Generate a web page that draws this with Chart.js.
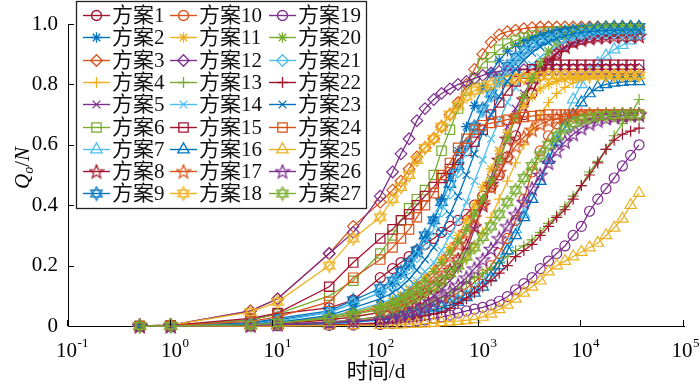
<!DOCTYPE html>
<html>
<head>
<meta charset="utf-8">
<script src="https://cdn.jsdelivr.net/npm/chart.js@4.4.1/dist/chart.umd.min.js"></script>
<style>
  html, body { margin: 0; padding: 0; background: #fff; }
  canvas { display: block; }
</style>
</head>
<body>
<canvas id="qChart" width="700" height="388"></canvas>
<script>
// time steps (days), shared by every scheme
const days = [0.5, 1, 6, 11, 35, 60, 110, 145, 175, 210, 250, 300, 365, 435, 525, 630, 760, 910, 1095, 1320,
  1585, 1905, 2290, 2755, 3310, 3980, 4785, 5755, 6920, 8320, 10000, 12020, 14455, 17380, 20895, 25120, 30200, 36500];

// Qo/N, one list per scheme
const q1 = [0,0.002,0.02,0.04,0.06,0.086,0.16,0.19,0.21,0.23,0.25,0.27,0.29,0.31,0.33,0.35,0.37,0.40,0.43,0.46,0.50,0.56,0.63,0.70,0.77,0.83,0.87,0.90,0.925,0.94,0.95,0.957,0.962,0.965,0.967,0.968,0.969,0.97];
const q2 = [0,0.001,0.01,0.02,0.045,0.075,0.11,0.14,0.17,0.20,0.24,0.29,0.35,0.42,0.50,0.58,0.66,0.73,0.79,0.84,0.88,0.91,0.93,0.945,0.955,0.963,0.97,0.975,0.978,0.98,0.982,0.984,0.985,0.986,0.987,0.988,0.988,0.988];
const q3 = [0,0.003,0.05,0.09,0.24,0.33,0.41,0.45,0.48,0.52,0.56,0.59,0.62,0.66,0.70,0.74,0.80,0.85,0.90,0.94,0.965,0.975,0.98,0.985,0.988,0.99,0.99,0.99,0.99,0.99,0.99,0.99,0.99,0.99,0.99,0.99,0.99,0.99];
const q4 = [0,0,0.003,0.007,0.02,0.03,0.045,0.055,0.065,0.075,0.09,0.105,0.12,0.14,0.165,0.19,0.22,0.26,0.31,0.36,0.42,0.48,0.54,0.60,0.65,0.70,0.74,0.77,0.79,0.805,0.815,0.82,0.824,0.827,0.829,0.83,0.83,0.83];
const q5 = [0,0,0.002,0.005,0.013,0.02,0.03,0.037,0.045,0.055,0.067,0.08,0.10,0.12,0.15,0.19,0.25,0.32,0.40,0.49,0.58,0.66,0.72,0.77,0.815,0.85,0.88,0.905,0.92,0.935,0.945,0.952,0.958,0.962,0.965,0.967,0.969,0.97];
const q6 = [0,0.002,0.02,0.04,0.10,0.15,0.24,0.30,0.35,0.39,0.42,0.45,0.50,0.58,0.65,0.72,0.78,0.82,0.87,0.89,0.915,0.935,0.945,0.955,0.962,0.968,0.972,0.975,0.977,0.978,0.98,0.98,0.98,0.98,0.98,0.98,0.98,0.98];
const q7 = [0,0,0.001,0.003,0.008,0.012,0.02,0.025,0.03,0.035,0.042,0.05,0.058,0.067,0.078,0.09,0.105,0.125,0.15,0.18,0.22,0.27,0.32,0.37,0.42,0.48,0.55,0.62,0.69,0.75,0.80,0.84,0.87,0.895,0.915,0.93,0.945,0.96];
const q8 = [0,0,0.003,0.008,0.02,0.03,0.045,0.055,0.065,0.078,0.092,0.11,0.13,0.155,0.185,0.22,0.27,0.33,0.40,0.47,0.55,0.62,0.69,0.75,0.80,0.845,0.88,0.905,0.925,0.94,0.948,0.953,0.956,0.958,0.959,0.96,0.96,0.96];
const q9 = [0,0.001,0.01,0.025,0.05,0.085,0.125,0.15,0.18,0.21,0.25,0.30,0.35,0.41,0.47,0.53,0.60,0.66,0.72,0.77,0.82,0.86,0.89,0.915,0.935,0.95,0.96,0.968,0.974,0.978,0.981,0.984,0.986,0.988,0.989,0.99,0.99,0.99];
const q10 = [0,0,0.001,0.003,0.01,0.015,0.025,0.03,0.035,0.042,0.05,0.06,0.07,0.08,0.095,0.11,0.125,0.145,0.17,0.20,0.24,0.29,0.35,0.42,0.51,0.58,0.63,0.67,0.685,0.692,0.696,0.698,0.70,0.70,0.70,0.70,0.70,0.70];
const q11 = [0,0,0.004,0.01,0.03,0.05,0.07,0.085,0.10,0.12,0.14,0.165,0.19,0.225,0.26,0.30,0.35,0.40,0.46,0.52,0.58,0.64,0.69,0.73,0.76,0.785,0.80,0.81,0.818,0.823,0.826,0.828,0.83,0.83,0.83,0.83,0.83,0.83];
const q12 = [0,0.003,0.05,0.09,0.24,0.31,0.43,0.51,0.57,0.62,0.68,0.72,0.75,0.77,0.785,0.80,0.81,0.82,0.83,0.838,0.843,0.846,0.848,0.849,0.85,0.85,0.85,0.85,0.85,0.85,0.85,0.85,0.85,0.85,0.85,0.85,0.85,0.85];
const q13 = [0,0,0.002,0.004,0.012,0.02,0.03,0.038,0.045,0.052,0.06,0.07,0.082,0.095,0.11,0.125,0.145,0.16,0.175,0.19,0.21,0.23,0.25,0.265,0.285,0.31,0.34,0.365,0.395,0.43,0.465,0.51,0.545,0.585,0.63,0.67,0.70,0.75];
const q14 = [0,0,0.004,0.01,0.03,0.05,0.075,0.09,0.105,0.125,0.15,0.18,0.21,0.25,0.30,0.35,0.41,0.48,0.55,0.62,0.68,0.74,0.79,0.83,0.865,0.89,0.91,0.928,0.942,0.953,0.961,0.967,0.971,0.974,0.976,0.978,0.979,0.98];
const q15 = [0,0.002,0.025,0.043,0.13,0.21,0.29,0.32,0.35,0.37,0.40,0.43,0.46,0.49,0.52,0.55,0.58,0.61,0.65,0.70,0.74,0.78,0.81,0.835,0.85,0.86,0.865,0.865,0.865,0.865,0.865,0.865,0.865,0.865,0.865,0.865,0.865,0.865];
const q16 = [0,0,0.001,0.003,0.008,0.012,0.02,0.024,0.028,0.033,0.038,0.045,0.052,0.06,0.07,0.08,0.095,0.11,0.13,0.16,0.20,0.25,0.30,0.36,0.42,0.48,0.55,0.61,0.66,0.70,0.74,0.77,0.79,0.80,0.805,0.808,0.81,0.81];
const q17 = [0,0,0.004,0.01,0.025,0.04,0.06,0.07,0.085,0.10,0.12,0.14,0.165,0.195,0.23,0.27,0.31,0.36,0.41,0.46,0.51,0.555,0.595,0.625,0.65,0.668,0.68,0.688,0.693,0.696,0.698,0.70,0.70,0.70,0.70,0.70,0.70,0.70];
const q18 = [0,0.003,0.046,0.08,0.20,0.29,0.36,0.42,0.46,0.50,0.55,0.59,0.62,0.66,0.70,0.73,0.76,0.78,0.79,0.80,0.81,0.815,0.82,0.822,0.825,0.827,0.83,0.83,0.83,0.83,0.83,0.83,0.83,0.83,0.83,0.83,0.83,0.83];
const q19 = [0,0,0,0.001,0.002,0.003,0.005,0.008,0.011,0.014,0.017,0.02,0.025,0.03,0.036,0.043,0.05,0.056,0.062,0.07,0.082,0.097,0.12,0.14,0.16,0.19,0.215,0.24,0.265,0.30,0.33,0.38,0.42,0.455,0.49,0.53,0.565,0.60];
const q20 = [0,0,0.005,0.012,0.03,0.045,0.065,0.08,0.095,0.11,0.13,0.15,0.18,0.21,0.245,0.28,0.32,0.37,0.42,0.48,0.55,0.62,0.69,0.76,0.82,0.87,0.91,0.94,0.96,0.972,0.98,0.985,0.988,0.99,0.99,0.99,0.99,0.99];
const q21 = [0,0,0.006,0.015,0.045,0.075,0.11,0.135,0.16,0.19,0.23,0.27,0.32,0.38,0.44,0.51,0.58,0.65,0.71,0.76,0.81,0.85,0.88,0.905,0.925,0.94,0.95,0.957,0.962,0.965,0.967,0.968,0.969,0.97,0.97,0.97,0.97,0.97];
const q22 = [0,0,0,0.001,0.003,0.006,0.01,0.014,0.018,0.023,0.028,0.034,0.04,0.045,0.058,0.075,0.09,0.11,0.13,0.15,0.175,0.20,0.23,0.25,0.27,0.30,0.33,0.36,0.385,0.42,0.465,0.50,0.54,0.585,0.615,0.635,0.645,0.655];
const q23 = [0,0,0.005,0.012,0.035,0.06,0.09,0.11,0.13,0.155,0.185,0.22,0.26,0.31,0.37,0.43,0.50,0.57,0.64,0.70,0.76,0.81,0.85,0.88,0.905,0.925,0.94,0.952,0.961,0.967,0.972,0.975,0.977,0.978,0.979,0.98,0.98,0.98];
const q24 = [0,0.001,0.015,0.03,0.08,0.16,0.22,0.26,0.29,0.32,0.36,0.40,0.44,0.50,0.54,0.59,0.62,0.65,0.665,0.672,0.677,0.683,0.688,0.692,0.695,0.698,0.70,0.70,0.70,0.70,0.70,0.70,0.70,0.70,0.70,0.70,0.70,0.70];
const q25 = [0,0,0,0,0.001,0.002,0.003,0.004,0.005,0.006,0.007,0.008,0.01,0.012,0.014,0.016,0.019,0.022,0.03,0.04,0.055,0.07,0.09,0.11,0.13,0.15,0.18,0.20,0.215,0.23,0.245,0.26,0.275,0.30,0.325,0.355,0.40,0.44];
const q26 = [0,0,0.002,0.005,0.012,0.016,0.022,0.028,0.035,0.043,0.053,0.065,0.08,0.095,0.115,0.135,0.16,0.19,0.22,0.255,0.29,0.33,0.37,0.41,0.455,0.50,0.54,0.58,0.61,0.635,0.655,0.67,0.68,0.688,0.693,0.696,0.698,0.70];
const q27 = [0,0,0.004,0.01,0.025,0.038,0.055,0.065,0.075,0.088,0.10,0.115,0.13,0.15,0.175,0.20,0.23,0.26,0.295,0.33,0.37,0.41,0.45,0.49,0.53,0.565,0.60,0.63,0.655,0.672,0.683,0.69,0.694,0.697,0.699,0.70,0.70,0.70];

const curves = [q1, q2, q3, q4, q5, q6, q7, q8, q9, q10, q11, q12, q13, q14, q15, q16, q17, q18, q19, q20,
  q21, q22, q23, q24, q25, q26, q27];
const names = ['方案1', '方案2', '方案3', '方案4', '方案5', '方案6', '方案7', '方案8', '方案9',
  '方案10', '方案11', '方案12', '方案13', '方案14', '方案15', '方案16', '方案17', '方案18',
  '方案19', '方案20', '方案21', '方案22', '方案23', '方案24', '方案25', '方案26', '方案27'];
const xTickExp = [-1, 0, 1, 2, 3, 4, 5];
const yTicks = [0, 0.2, 0.4, 0.6, 0.8, 1.0];

// styles: colours repeat every 7, markers every 9
const palette = ['#A2142F', '#0072BD', '#D95319', '#EDB120', '#7E2F8E', '#77AC30', '#4DBEEE'];
const markers = ['circle', 'star', 'rectRot', 'cross', 'crossRot', 'rect', 'triangle', 'pentagram', 'hexagram'];
const markerSize = [5, 5.3, 5.8, 5.5, 5.5, 6.6, 6.6, 0, 0];

const imgCache = {};
function starImage(color, kind) {
  const key = color + kind;
  if (imgCache[key]) return imgCache[key];
  const c = document.createElement('canvas');
  c.width = 16; c.height = 16;
  const g = c.getContext('2d');
  g.strokeStyle = color;
  g.lineWidth = 1.2;
  g.beginPath();
  if (kind === 'pentagram') {
    for (let k = 0; k < 10; k++) {
      const r = k % 2 ? 3 : 7.2;
      const a = -Math.PI / 2 + k * Math.PI / 5;
      const px = 8 + r * Math.cos(a), py = 8.5 + r * Math.sin(a);
      if (k) g.lineTo(px, py); else g.moveTo(px, py);
    }
    g.closePath();
  } else {
    [-Math.PI / 2, Math.PI / 2].forEach(off => {
      for (let k = 0; k < 3; k++) {
        const a = off + k * 2 * Math.PI / 3;
        const px = 8 + 6.7 * Math.cos(a), py = 8 + 6.7 * Math.sin(a);
        if (k) g.lineTo(px, py); else g.moveTo(px, py);
      }
      g.closePath();
    });
  }
  g.stroke();
  imgCache[key] = c;
  return c;
}

function styleOf(i) {
  const color = palette[i % 7];
  const m = markers[i % 9];
  const style = (m === 'pentagram' || m === 'hexagram') ? starImage(color, m) : m;
  return { color, m, style, r: markerSize[i % 9] };
}

const datasets = curves.map((vals, i) => {
  const s = styleOf(i);
  return {
    label: names[i],
    data: days.map((d, j) => ({ x: d, y: vals[j] })),
    borderColor: s.color,
    backgroundColor: s.color,
    borderWidth: 1.3,
    pointStyle: s.style,
    pointRadius: s.r || 5,
    pointBorderWidth: 1.2,
    pointBorderColor: s.color,
    pointBackgroundColor: 'rgba(0,0,0,0)',
    fill: false,
    tension: 0,
    clip: false,
    order: 27 - i
  };
});

// marker for the hand-drawn legend, same shapes as the plot
function drawMarker(ctx, s, x, y) {
  if (typeof s.style !== 'string') {
    ctx.drawImage(s.style, x - 8, y - 8);
    return;
  }
  const r = s.r;
  const d = r * Math.SQRT1_2;
  ctx.beginPath();
  switch (s.m) {
    case 'circle': ctx.arc(x, y, r, 0, Math.PI * 2); break;
    case 'rect': ctx.rect(x - d, y - d, 2 * d, 2 * d); break;
    case 'rectRot':
      ctx.moveTo(x, y - r); ctx.lineTo(x + r, y); ctx.lineTo(x, y + r); ctx.lineTo(x - r, y); ctx.closePath(); break;
    case 'triangle':
      ctx.moveTo(x, y - r);
      ctx.lineTo(x + r * Math.sin(2 * Math.PI / 3), y - r * Math.cos(2 * Math.PI / 3));
      ctx.lineTo(x + r * Math.sin(4 * Math.PI / 3), y - r * Math.cos(4 * Math.PI / 3));
      ctx.closePath(); break;
    case 'cross':
      ctx.moveTo(x, y - r); ctx.lineTo(x, y + r); ctx.moveTo(x - r, y); ctx.lineTo(x + r, y); break;
    case 'crossRot':
      ctx.moveTo(x - d, y - d); ctx.lineTo(x + d, y + d); ctx.moveTo(x + d, y - d); ctx.lineTo(x - d, y + d); break;
    case 'star':
      ctx.moveTo(x, y - r); ctx.lineTo(x, y + r); ctx.moveTo(x - r, y); ctx.lineTo(x + r, y);
      ctx.moveTo(x - d, y - d); ctx.lineTo(x + d, y + d); ctx.moveTo(x + d, y - d); ctx.lineTo(x - d, y + d); break;
  }
  ctx.stroke();
}

const SERIF = '"Liberation Serif", "Noto Sans CJK SC"';

const decor = {
  id: 'decor',
  afterDraw(chart) {
    const { ctx, chartArea: a, scales: { x, y } } = chart;
    ctx.save();
    ctx.strokeStyle = '#000';
    ctx.lineWidth = 1;
    // inward ticks
    ctx.beginPath();
    xTickExp.forEach(e => {
      const px = Math.round(x.getPixelForValue(Math.pow(10, e))) - 0.5;
      ctx.moveTo(px, a.bottom); ctx.lineTo(px, a.bottom - 6);
    });
    yTicks.forEach(v => {
      const py = Math.round(y.getPixelForValue(v)) + 0.5;
      ctx.moveTo(a.left, py); ctx.lineTo(a.left + 6, py);
    });
    ctx.stroke();

    // x tick labels 10^n
    ctx.fillStyle = '#000';
    ctx.textBaseline = 'alphabetic';
    ctx.textAlign = 'left';
    xTickExp.forEach(e => {
      const px = x.getPixelForValue(Math.pow(10, e));
      ctx.font = '21px "Liberation Serif"';
      const wb = ctx.measureText('10').width;
      ctx.font = '13px "Liberation Serif"';
      const sup = String(e);
      const ws = ctx.measureText(sup).width;
      let left = px - (wb + ws) / 2 + 4;
      if (left + wb + ws > 699) left = 699 - wb - ws;
      ctx.font = '21px "Liberation Serif"';
      ctx.fillText('10', left, 357);
      ctx.font = '13px "Liberation Serif"';
      ctx.fillText(sup, left + wb + 0.5, 347);
    });

    // x title
    ctx.font = '21px ' + SERIF;
    ctx.textAlign = 'center';
    ctx.textBaseline = 'middle';
    ctx.fillText('时间/d', 376, 372);

    // y title Qo/N
    ctx.save();
    ctx.translate(22, 168);
    ctx.rotate(-Math.PI / 2);
    ctx.textAlign = 'left';
    ctx.textBaseline = 'alphabetic';
    const parts = [
      ['Q', 'italic 21px "Liberation Serif"', 0],
      ['o', 'italic 14px "Liberation Serif"', 4],
      ['/', '21px "Liberation Serif"', 0],
      ['N', 'italic 21px "Liberation Serif"', 0]
    ];
    let tw = 0;
    parts.forEach(p => { ctx.font = p[1]; tw += ctx.measureText(p[0]).width; });
    let cx = -tw / 2;
    parts.forEach(p => {
      ctx.font = p[1];
      ctx.fillText(p[0], cx, 7 + p[2]);
      cx += ctx.measureText(p[0]).width;
    });
    ctx.restore();

    // legend box, 3 columns x 9 rows
    ctx.fillStyle = '#fff';
    ctx.fillRect(76, 1, 291, 208);
    ctx.strokeStyle = '#222';
    ctx.lineWidth = 1.3;
    ctx.strokeRect(76.5, 1.5, 290, 207);
    const colX = [83, 170, 269];
    ctx.font = '21px ' + SERIF;
    ctx.textAlign = 'left';
    ctx.textBaseline = 'middle';
    names.forEach((name, i) => {
      const s = styleOf(i);
      const lx = colX[Math.floor(i / 9)];
      const ly = Math.round(15 + 22.3 * (i % 9)) + 0.5;
      ctx.strokeStyle = s.color;
      ctx.lineWidth = 1.4;
      ctx.beginPath();
      ctx.moveTo(lx, ly); ctx.lineTo(lx + 27, ly);
      ctx.stroke();
      ctx.lineWidth = 1.3;
      drawMarker(ctx, s, lx + 13.5, ly);
      ctx.fillStyle = '#111';
      ctx.fillText(name, lx + 29, ly + 1);
    });
    ctx.restore();
  }
};

new Chart(document.getElementById('qChart'), {
  type: 'line',
  data: { datasets },
  options: {
    responsive: false,
    animation: false,
    devicePixelRatio: 1,
    layout: { padding: { top: 24, right: 16, left: 0, bottom: 0 } },
    plugins: { legend: { display: false }, tooltip: { enabled: false } },
    scales: {
      x: {
        type: 'logarithmic',
        min: 0.1,
        max: 100000,
        afterBuildTicks: s => { s.ticks = xTickExp.map(e => ({ value: Math.pow(10, e) })); },
        afterFit: s => { s.height = 62; },
        ticks: { display: false },
        grid: { display: false, drawTicks: false },
        border: { display: true, color: '#000', width: 1 }
      },
      y: {
        min: 0,
        max: 1,
        afterFit: s => { s.width = 68; },
        ticks: {
          stepSize: 0.2,
          padding: 10,
          color: '#000',
          font: { family: '"Liberation Serif"', size: 21 },
          callback: v => v === 0 ? '0' : v.toFixed(1)
        },
        grid: { display: false, drawTicks: false },
        border: { display: true, color: '#000', width: 1 }
      }
    }
  },
  plugins: [decor]
});
</script>
</body>
</html>
